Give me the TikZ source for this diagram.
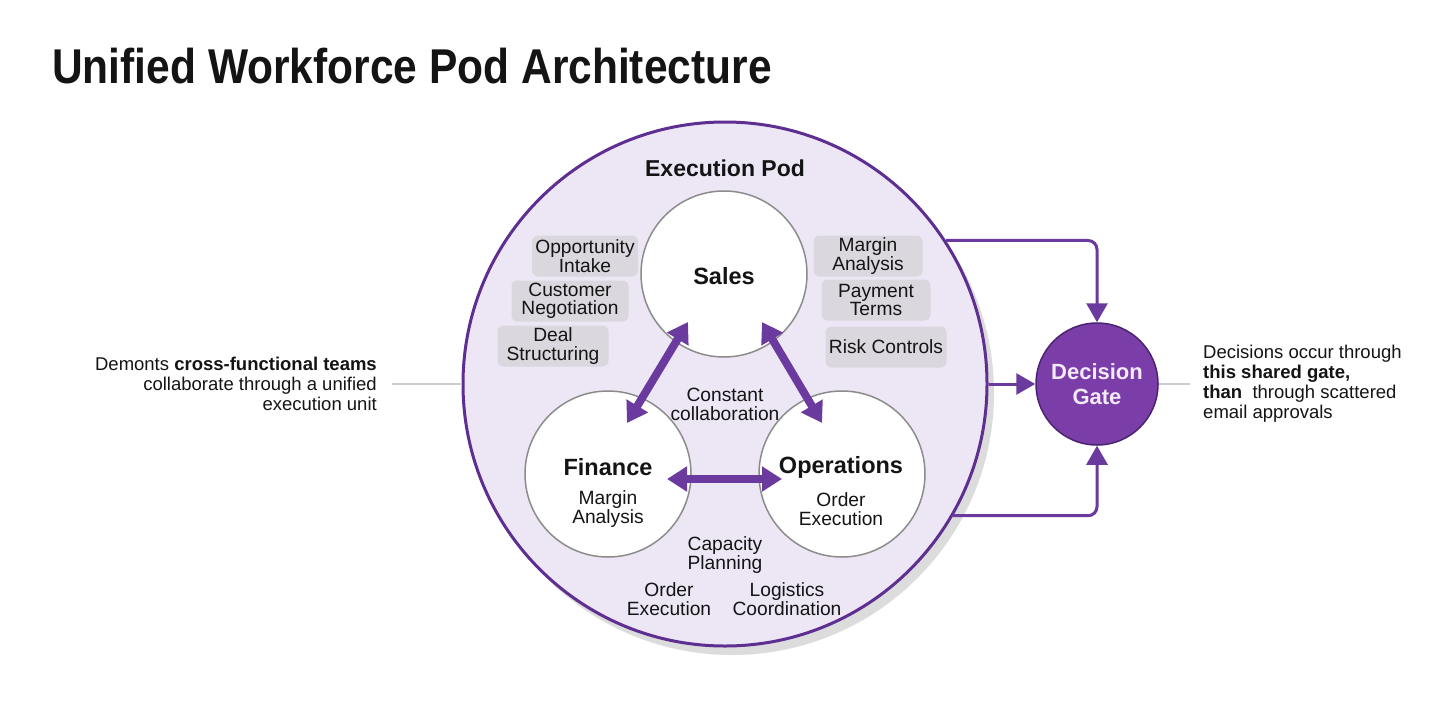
\documentclass[tikz,border=0pt]{standalone}
\usepackage{fontspec}
\setmainfont{Liberation Sans}
\usetikzlibrary{arrows.meta,calc,shadows}
\definecolor{podfill}{HTML}{EDE7F5}
\definecolor{podline}{HTML}{5E2E91}
\definecolor{arrowc}{HTML}{6A3A9E}
\definecolor{gatefill}{HTML}{7B3DA8}
\definecolor{gateline}{HTML}{4B2373}
\definecolor{chipc}{HTML}{DAD7DE}
\definecolor{ringc}{HTML}{8C8C8C}
\definecolor{shadowc}{HTML}{DCDCDC}
\definecolor{guide}{HTML}{CCCCCC}
\definecolor{txt}{HTML}{141414}
\definecolor{gatetxt}{HTML}{F3EAFB}
\begin{document}
\begin{tikzpicture}[x=1pt,y=-1pt,
  every node/.style={text=txt, inner sep=0pt},
  body/.style={font=\fontsize{18.5}{20}\selectfont},
  chip/.style={fill=chipc, rounded corners=6pt, align=center, minimum height=41pt,
    font=\fontsize{19.2}{18.5}\selectfont},
  head/.style={font=\fontsize{23.5}{26}\selectfont\bfseries},
  sub/.style={font=\fontsize{19.2}{19}\selectfont, align=center},
  pod/.style={circle, minimum size=524pt, fill=podfill, draw=podline, line width=3pt,
    drop shadow={shadow xshift=7pt, shadow yshift=-9pt, fill=shadowc, opacity=1}},
  team/.style={circle, minimum size=166pt, fill=white, draw=ringc, line width=1.5pt},
  gatebox/.style={circle, minimum size=122pt, fill=gatefill, draw=gateline, line width=1.5pt,
    text=gatetxt, align=center, font=\fontsize{22}{25}\selectfont\bfseries},
  dbl/.style={draw=arrowc, line width=8pt,
    {Triangle[width=24pt,length=20pt]}-{Triangle[width=24pt,length=20pt]}},
  conn/.style={draw=arrowc, line width=3pt, rounded corners=9pt,
    -{Triangle[width=21pt,length=19pt]}},
  guideline/.style={draw=guide, line width=1.5pt}
]
\useasboundingbox[fill=white] (0,0) rectangle (1456,720);

% title
\node[anchor=base west, font=\fontsize{42.5}{46}\selectfont\bfseries] (title) at (52,83)
  {\scalebox{1}[1.15]{Unified Workforce Pod Architecture}};

% pod
\node[pod] (pod) at (725,384) {};
\node[head, font=\fontsize{23}{26}\selectfont\bfseries] (podtitle) at (725,168) {Execution Pod};

% team circles
\node[team] (sales) at (724,274) {};
\node[team] (finance) at (608,474) {};
\node[team] (ops) at (842,474) {};

\node[head] (salest) at (724,276) {Sales};
\node[head] (financet) at (608,467) {Finance};
\node[head] (opst) at (841,467) {Operations};
\node[sub] (finsub) at (608,509) {Margin\\Analysis};
\node[sub] (opssub) at (841,509) {Order\\Execution};

% chips left
\node[chip, minimum width=106pt] (c1) at (585,256) {Opportunity\\Intake};
\node[chip, minimum width=117pt] (c2) at (570,301) {Customer\\Negotiation};
\node[chip, minimum width=111pt] (c3) at (553,346) {Deal\\Structuring};
% chips right
\node[chip, minimum width=109pt] (c4) at (868,256) {Margin\\Analysis};
\node[chip, minimum width=109pt] (c5) at (876,300) {Payment\\Terms};
\node[chip, minimum width=121pt] (c6) at (886,347) {Risk Controls};

% collaboration arrows
\draw[dbl] ($(sales.center)+(-36,48)$) -- ($(finance.center)+(19,-51)$);
\draw[dbl] ($(sales.center)+(38,48)$) -- ($(ops.center)+(-20,-51)$);
\draw[dbl] ($(finance.center)+(59,5)$) -- ($(ops.center)+(-60,5)$);

\node[sub] (collab) at (725,404) {Constant\\collaboration};
\node[sub] (cap) at (725,555) {Capacity\\Planning};
\node[sub] (oe) at (669,599) {Order\\Execution};
\node[sub] (lc) at (787,599) {Logistics\\Coordination};

% decision gate
\node[gatebox] (gate) at (1097,384) {Decision\\Gate};
\draw[conn] (pod.33) -| (gate.north);
\draw[conn] (pod.-30.5) -| (gate.south);
\draw[conn] (pod.east) -- (gate.west);

% side texts
\coordinate (lg) at (392,384);
\coordinate (rg) at (1190,384);
\draw[guideline] (lg) -- (pod.west);
\draw[guideline] (gate.east) -- (rg);
\node[body, anchor=east, align=right] (lefttxt) at (377,384)
  {Demonts \textbf{cross-functional teams}\\collaborate through a unified\\execution unit};
\node[body, anchor=west, align=left] (righttxt) at (1203,384)
  {Decisions occur through\\\textbf{this shared gate,}\\\textbf{than}\ \ through scattered\\email approvals};
\end{tikzpicture}
\end{document}
